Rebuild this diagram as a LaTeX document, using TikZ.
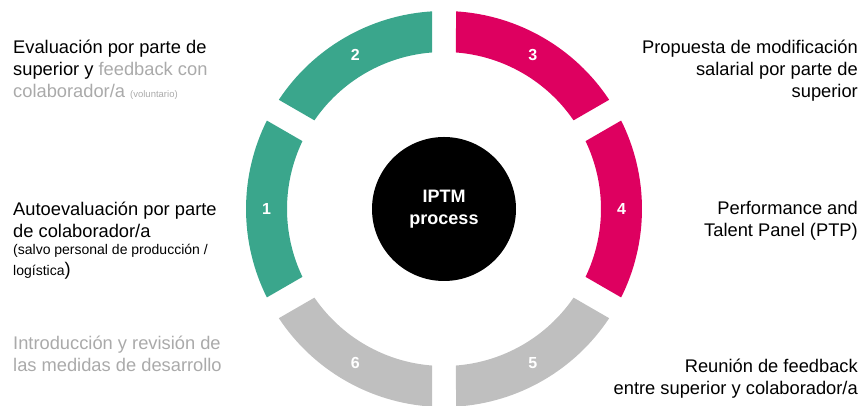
\documentclass[tikz,border=0pt]{standalone}
\usepackage{fontspec}
\setmainfont{Liberation Sans}
\definecolor{tealg}{HTML}{3AA68C}
\definecolor{magen}{HTML}{DE0060}
\definecolor{segg}{HTML}{BFBFBF}
\definecolor{txtg}{HTML}{AAAAAA}
\begin{document}
\begin{tikzpicture}[x=1pt,y=1pt,
  numlbl/.style={text=white,font=\fontsize{16}{18}\selectfont\bfseries,inner sep=0},
  txt/.style={inner sep=0,font=\fontsize{18.3}{22}\selectfont,text=black},
  core/.style={circle,fill=black,minimum size=144pt,inner sep=0,text=white,align=center,font=\fontsize{18}{22.5}\selectfont\bfseries}]
\useasboundingbox (0,0) rectangle (863,406);
\begin{scope}[shift={(444,197)}]
\foreach \m/\c/\n in {180/tealg/1,120/tealg/2,60/magen/3,0/magen/4,-60/segg/5,-120/segg/6}{
  \fill[\c] ({\m-30+3.474}:198) arc[start angle={\m-30+3.474}, end angle={\m+30-3.474}, radius=198]
    -- ({\m+30-4.383}:157) arc[start angle={\m+30-4.383}, end angle={\m-30+4.383}, radius=157] -- cycle;
  \node[numlbl] (n\n) at (\m:177.5) {\n};
}
\node[core] (c) at (0,0) {IPTM\\process};
\end{scope}
\node[txt,anchor=base west,align=left] (t2) at (13,308) {Evaluación por parte de\\superior y {\color{txtg}feedback con}\\{\color{txtg}colaborador/a {\fontsize{9.5}{10}\selectfont(voluntario)}}};
\node[txt,anchor=base west,align=left] (t1) at (13,130) {Autoevaluación por parte\\de colaborador/a\\[-5pt]{\fontsize{14}{17}\selectfont(salvo personal de producción /}\\[-1pt]{\fontsize{14}{17}\selectfont logística})};
\node[txt,anchor=base west,align=left,text=txtg] (t6) at (13,34) {Introducción y revisión de\\las medidas de desarrollo};
\node[txt,anchor=base east,align=right] (t3) at (858,308) {Propuesta de modificación\\salarial por parte de\\superior};
\node[txt,anchor=base east,align=right] (t4) at (858,169) {Performance and\\Talent Panel (PTP)};
\node[txt,anchor=base east,align=right] (t5) at (858,11) {Reunión de feedback\\entre superior y colaborador/a};
\end{tikzpicture}
\end{document}
